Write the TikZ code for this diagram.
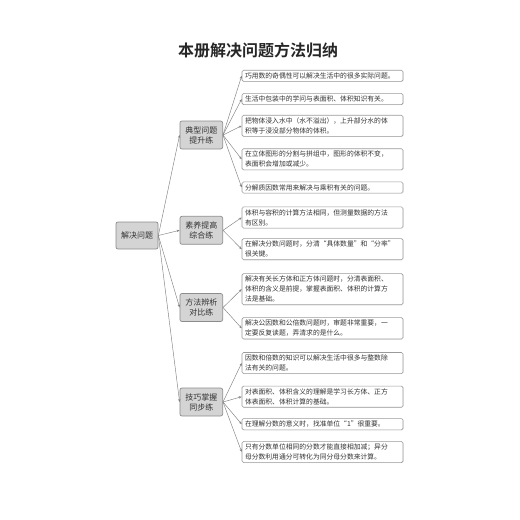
\documentclass[tikz,border=0pt]{standalone}
\usepackage{fontspec}
\usetikzlibrary{arrows.meta,shadows}
\newfontfamily\cjk{Noto Sans CJK SC}
\newfontfamily\cjkb{Noto Sans CJK SC Bold}
\definecolor{lineg}{HTML}{808080}
\definecolor{boxg}{HTML}{9A9A9A}
\definecolor{catfill}{HTML}{D4D4D4}
\definecolor{catdraw}{HTML}{8C8C8C}
\definecolor{txt}{HTML}{333333}
\tikzset{
  leafbox/.style={draw=boxg, line width=0.6pt, rounded corners=1.5pt, fill=white,
    drop shadow={shadow xshift=0.6pt, shadow yshift=-0.6pt, fill=black!15},
    anchor=west, text width=155pt, inner xsep=3pt, inner ysep=2.4pt, align=left,
    font=\cjk\fontsize{6.8pt}{10pt}\selectfont, text=txt},
  catbox/.style={draw=catdraw, line width=0.7pt, rounded corners=2pt, fill=catfill,
    minimum width=42.7pt, minimum height=28pt, inner sep=1pt, align=center,
    font=\cjk\fontsize{8pt}{10pt}\selectfont, text=txt},
  conn/.style={draw=lineg, line width=0.45pt, -{Stealth[length=3pt,width=2.4pt]}}
}
\begin{document}
\begin{tikzpicture}[x=1pt,y=-1pt]
\useasboundingbox (0,0) rectangle (520,520);
\node[font=\cjkb\fontsize{16pt}{18pt}\selectfont, text=black!85] (title) at (258,50) {本册解决问题方法归纳};

\node[catbox, minimum width=42pt, minimum height=27pt] (root) at (137,235.5) {解决问题};

\node[catbox] (c1) at (201.3,135) {典型问题\\提升练};
\node[catbox] (c2) at (201.3,230.3) {素养提高\\综合练};
\node[catbox] (c3) at (201.3,307.5) {方法辨析\\对比练};
\node[catbox] (c4) at (201.3,402) {技巧掌握\\同步练};

\node[leafbox] (l1) at (241.7,75.8) {巧用数的奇偶性可以解决生活中的很多实际问题。};
\node[leafbox] (l2) at (241.7,99) {生活中包装中的学问与表面积、体积知识有关。};
\node[leafbox] (l3) at (241.7,125.8) {把物体浸入水中（水不溢出），上升部分水的体\\积等于浸没部分物体的体积。};
\node[leafbox] (l4) at (241.7,159.3) {在立体图形的分割与拼组中，图形的体积不变，\\表面积会增加或减少。};
\node[leafbox] (l5) at (241.7,187.5) {分解质因数常用来解决与乘积有关的问题。};

\node[leafbox] (l6) at (241.7,217.5) {体积与容积的计算方法相同，但测量数据的方法\\有区别。};
\node[leafbox] (l7) at (241.7,249.2) {在解决分数问题时，分清“具体数量”和“分率”\\很关键。};

\node[leafbox] (l8) at (241.7,289.2) {解决有关长方体和正方体问题时，分清表面积、\\体积的含义是前提，掌握表面积、体积的计算方\\法是基础。};
\node[leafbox] (l9) at (241.7,328.3) {解决公因数和公倍数问题时，审题非常重要，一\\定要反复读题，弄清求的是什么。};

\node[leafbox] (l10) at (241.7,363) {因数和倍数的知识可以解决生活中很多与整数除\\法有关的问题。};
\node[leafbox] (l11) at (241.7,396.7) {对表面积、体积含义的理解是学习长方体、正方\\体表面积、体积计算的基础。};
\node[leafbox] (l12) at (241.7,424.2) {在理解分数的意义时，找准单位“1”很重要。};
\node[leafbox] (l13) at (241.7,452) {只有分数单位相同的分数才能直接相加减；异分\\母分数利用通分可转化为同分母分数来计算。};

\foreach \c in {c1,c2,c3,c4} \draw[conn] (root.east) -- (\c.west);
\foreach \l in {l1,l2,l3,l4,l5} \draw[conn] (c1.east) -- (\l.west);
\foreach \l in {l6,l7} \draw[conn] (c2.east) -- (\l.west);
\foreach \l in {l8,l9} \draw[conn] (c3.east) -- (\l.west);
\foreach \l in {l10,l11,l12,l13} \draw[conn] (c4.east) -- (\l.west);
\end{tikzpicture}
\end{document}
